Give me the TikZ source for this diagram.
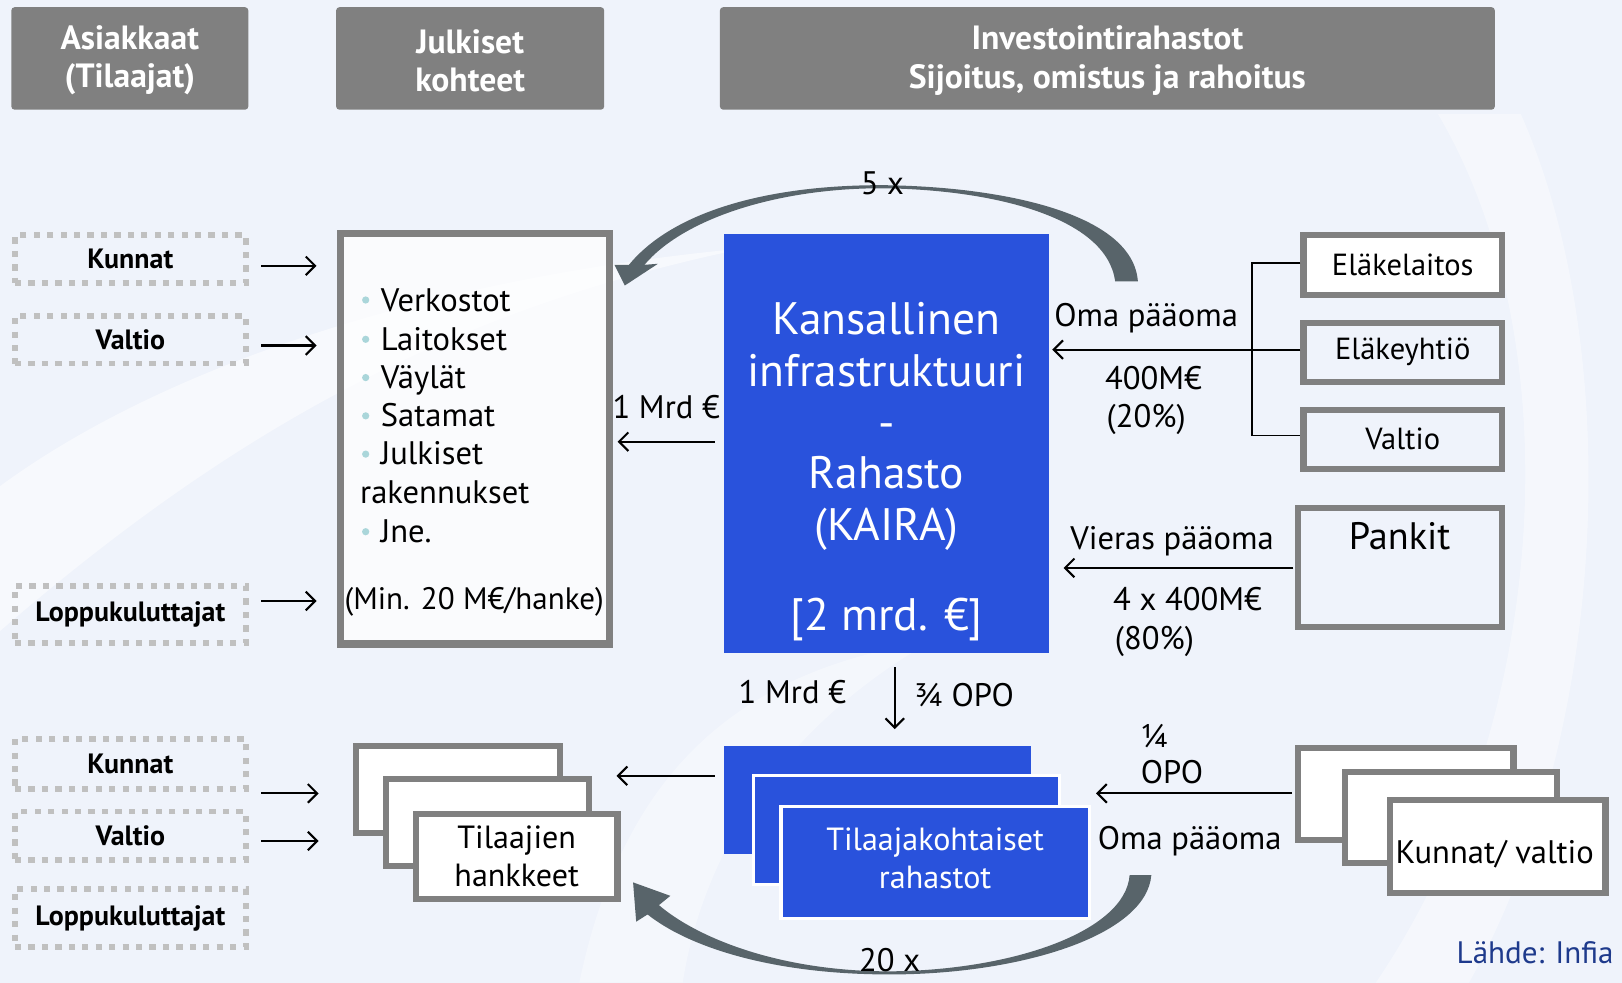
\documentclass[tikz,border=0pt]{standalone}
\usepackage{fontspec}
\setmainfont{PT Sans}
\usetikzlibrary{arrows.meta}
\definecolor{bg}{RGB}{239,243,251}
\definecolor{hdrgray}{RGB}{128,128,128}
\definecolor{boxgray}{RGB}{128,128,128}
\definecolor{dotgray}{RGB}{192,192,192}
\definecolor{kblue}{RGB}{41,82,220}
\definecolor{arcgray}{RGB}{88,100,106}
\definecolor{bulletc}{RGB}{170,214,218}
\definecolor{srcblue}{RGB}{30,58,140}
\newcommand\fsz[1]{\fontsize{#1}{#1}\selectfont}
\begin{document}
\begin{tikzpicture}[x=1pt,y=-1pt,
  hdr/.style={fill=hdrgray, rounded corners=3pt, inner sep=0},
  hdrtxt/.style={text=white, align=center, inner sep=0, font=\bfseries\fontsize{32.5}{37}\selectfont},
  dotbox/.style={draw=dotgray, line width=5.5pt, dash pattern=on 6pt off 7pt, inner sep=0, font=\bfseries\fsz{27}},
  gbox/.style={draw=boxgray, line width=6pt, fill=white, inner sep=0},
  gboxo/.style={draw=boxgray, line width=6pt, inner sep=0},
  bbox/.style={fill=kblue, inner sep=0},
  wbord/.style={draw=white, line width=3pt},
  arr/.style={-{Straight Barb[length=9pt,width=18pt,line width=2pt]}, line width=2pt},
  lbl/.style={inner sep=0, anchor=mid, yshift=-6pt, font=\fsz{31.5}},
  item/.style={inner sep=0, anchor=base west, font=\fsz{31.5}},
  ktxt/.style={inner sep=0, anchor=mid, yshift=-9pt, text=white, font=\fsz{44}},
  bul/.style={circle, fill=bulletc, inner sep=0, minimum size=7pt},
]
\useasboundingbox (0,0) rectangle (1568,950);
\clip (0,0) rectangle (1568,950);
\fill[bg] (0,0) rectangle (1568,950);
% faint background swooshes
\fill[white, opacity=.55] (0,470) .. controls (150,360) and (400,270) .. (720,240) .. controls (430,300) and (220,420) .. (0,610) -- cycle;
\fill[white, opacity=.4] (1390,110) .. controls (1520,330) and (1500,700) .. (1330,950) -- (1420,950) .. controls (1560,700) and (1568,330) .. (1470,110) -- cycle;
\fill[white, opacity=.35] (560,950) .. controls (600,760) and (700,650) .. (900,620) .. controls (760,700) and (680,820) .. (660,950) -- cycle;

% headers
\node[hdr, minimum width=229pt, minimum height=99pt] (hd1) at (125.5,56.5) {};
\node[hdrtxt] (hd1t) at (125.5,58.5) {Asiakkaat\\(Tilaajat)};
\node[hdr, minimum width=259pt, minimum height=99pt] (hd2) at (454.5,56.5) {};
\node[hdrtxt] (hd2t) at (454.5,58.5) {Julkiset\\kohteet};
\node[hdr, minimum width=749pt, minimum height=99pt] (hd3) at (1070.5,56.5) {};
\node[hdrtxt] (hd3t) at (1070.5,58.5) {Investointirahastot\\Sijoitus, omistus ja rahoitus};

% arcs
\fill[arcgray] (1100,272) .. controls (1095,205) and (965,180) .. (852,179) .. controls (740,179) and (650,205) .. (608,256) -- (594,256) -- (604,276) -- (636,255) -- (623,256) .. controls (660,212) and (750,182) .. (852,182) .. controls (960,183) and (1070,210) .. (1078,272) -- cycle;
\fill[arcgray] (1113,846) .. controls (1108,905) and (985,942) .. (860,942) .. controls (745,942) and (665,915) .. (626,884) -- (615,891) -- (612,853) -- (648,866) -- (637,875) .. controls (672,905) and (750,939) .. (860,939) .. controls (980,938) and (1088,900) .. (1092,846) -- cycle;

% dotted client boxes
\node[dotbox, minimum width=223pt, minimum height=46pt] (k1) at (126,250.5) {Kunnat};
\node[dotbox, minimum width=223pt, minimum height=46pt] (v1) at (126,328.5) {Valtio};
\node[dotbox, minimum width=223pt, minimum height=55pt] (l1) at (126,594) {Loppukuluttajat};
\node[dotbox, minimum width=223pt, minimum height=48pt] (k2) at (126,738.5) {Kunnat};
\node[dotbox, minimum width=223pt, minimum height=47pt] (v2) at (126,808) {Valtio};
\node[dotbox, minimum width=223pt, minimum height=56pt] (l2) at (126,887.5) {Loppukuluttajat};

% Julkiset kohteet box
\node[draw=boxgray, line width=7pt, fill=white, fill opacity=.7, inner sep=0, minimum width=260pt, minimum height=397pt] (jk) at (459.5,424) {};
\node[bul] (b1) at (353.5,290) {};
\node[item] (i1) at (368,301) {Verkostot};
\node[bul] (b2) at (353.5,328) {};
\node[item] (i2) at (368,338.5) {Laitokset};
\node[bul] (b3) at (353.5,365) {};
\node[item] (i3) at (368,375.5) {Väylät};
\node[bul] (b4) at (353.5,402) {};
\node[item] (i4) at (368,412.5) {Satamat};
\node[bul] (b5) at (353.5,439) {};
\node[item] (i5) at (368,449.5) {Julkiset};
\node[item] (i6) at (348,487) {rakennukset};
\node[bul] (b7) at (353.5,514) {};
\node[item] (i7) at (368,524.5) {Jne.};
\node[item, font=\fsz{30}] (i8) at (333,589) {(Min. 20 M€/hanke)};

% KAIRA
\node[bbox, minimum width=314pt, minimum height=405pt] (kaira) at (857,428.5) {};
\node[ktxt] (kt1) at (857,312) {Kansallinen};
\node[ktxt] (kt2) at (857,362) {infrastruktuuri};
\node[ktxt] (kt3) at (857,412) {-};
\node[ktxt] (kt4) at (857,461) {Rahasto};
\node[ktxt] (kt5) at (857,511) {(KAIRA)};
\node[ktxt] (kt6) at (857,598) {[2 mrd. €]};

% right investors
\node[gbox, minimum width=192pt, minimum height=58pt, font=\fsz{29.5}] (ela) at (1356,256) {Eläkelaitos};
\node[gboxo, minimum width=192pt, minimum height=57pt, font=\fsz{29.5}] (eky) at (1356,340.5) {Eläkeyhtiö};
\node[gboxo, minimum width=192pt, minimum height=57pt, font=\fsz{29.5}] (val) at (1356,424.5) {Valtio};
\node[gboxo, line width=5.5pt, minimum width=197pt, minimum height=115pt] (pank) at (1353.5,548.5) {};
\node[lbl, font=\fsz{37}] (pankt) at (1353,523) {Pankit};

% bracket and arrows from investors
\draw[line width=1.6pt] (ela.west |- 0,254) -- (1210,254) -- (1210,421) -- (val.west |- 0,421);
\draw[arr, shorten >=3pt] (eky.west |- 0,338) -- (kaira.east |- 0,338);
\draw[arr, shorten <=2pt, shorten >=14pt] (pank.west |- 0,549) -- (kaira.east |- 0,549);
\draw[arr, shorten <=9pt, shorten >=4pt] (kaira.west |- 0,427) -- (jk.east |- 0,427);

% Tilaajakohtaiset rahastot
\node[bbox, minimum width=297pt, minimum height=105pt] (tk1) at (848.5,773.5) {};
\node[bbox, wbord, minimum width=296pt, minimum height=105pt] (tk2) at (876,802.5) {};
\node[bbox, wbord, minimum width=298pt, minimum height=108pt] (tk3) at (904,834) {};
\node[text=white, align=center, inner sep=0, font=\fontsize{31}{37}\selectfont] (tk3t) at (904,830) {Tilaajakohtaiset\\rahastot};
\draw[arr, shorten <=14pt, shorten >=16pt] (kaira.south -| 865,0) -- (tk1.north -| 865,0);

% Tilaajien hankkeet
\node[gbox, minimum width=197pt, minimum height=84pt] (th1) at (442.5,763) {};
\node[gbox, minimum width=196pt, minimum height=84pt] (th2) at (471,795) {};
\node[gbox, minimum width=195pt, minimum height=82pt, align=center, font=\fontsize{31}{37}\selectfont] (th3) at (499.5,828) {Tilaajien\\hankkeet};
\draw[arr, shorten <=9pt, shorten >=24pt] (tk1.west |- 0,750) -- (th2.east |- 0,750);

% Kunnat / valtio
\node[gbox, minimum width=208pt, minimum height=89pt] (kv1) at (1359,767.5) {};
\node[gbox, minimum width=205pt, minimum height=88pt] (kv2) at (1402.5,790) {};
\node[gbox, minimum width=208pt, minimum height=90pt] (kv3) at (1448,818) {};
\node[lbl] (kvt) at (1445,826) {Kunnat/ valtio};
\draw[arr, shorten <=3pt, shorten >=5pt] (kv1.west |- 0,767) -- (tk3.east |- 0,767);

% client arrows
\draw[arr, shorten <=12.5pt, shorten >=20pt] (k1.east |- 0,257) -- (jk.west |- 0,257);
\draw[arr, shorten <=12.5pt, shorten >=20pt] (v1.east |- 0,334) -- (jk.west |- 0,334);
\draw[arr, shorten <=12.5pt, shorten >=20pt] (l1.east |- 0,581) -- (jk.west |- 0,581);
\draw[arr, shorten <=12.5pt, shorten >=33pt] (k2.east |- 0,767) -- (th1.west |- 0,767);
\draw[arr, shorten <=12.5pt, shorten >=62pt] (v2.east |- 0,813) -- (th2.west |- 0,813);

% labels
\node[lbl] (x5) at (853,180) {5 x};
\node[lbl] (m1) at (644,396) {1 Mrd €};
\node[lbl] (op1) at (1108,307) {Oma pääoma};
\node[lbl] (e400) at (1115,368) {400M€};
\node[lbl] (p20) at (1108,405) {(20\%)};
\node[lbl] (vp) at (1133,523) {Vieras pääoma};
\node[lbl] (e1600) at (1148,582) {4 x 400M€};
\node[lbl] (p80) at (1116,619) {(80\%)};
\node[lbl] (m2) at (766,672) {1 Mrd €};
\node[lbl] (opo34) at (932,674) {¾ OPO};
\node[lbl] (q14) at (1116,714) {¼};
\node[lbl] (opo14) at (1133,749) {OPO};
\node[lbl] (op2) at (1150,813) {Oma pääoma};
\node[lbl] (x20) at (860,931) {20 x};
\node[inner sep=0, anchor=mid west, yshift=-5pt, text=srcblue, font=\fsz{30}] (src) at (1408,924) {Lähde: Infia};
\end{tikzpicture}
\end{document}
